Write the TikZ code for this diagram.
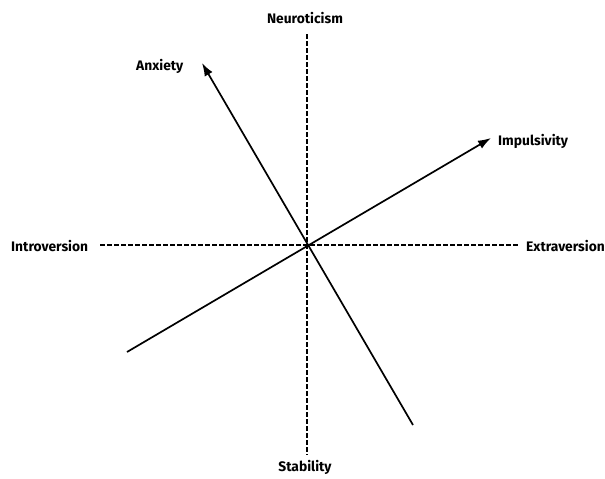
\documentclass[tikz,border=0pt]{standalone}
\usepackage{fontspec}
\setsansfont{Fira Sans}
\usetikzlibrary{arrows.meta}
\tikzset{font={\fontsize{13.8pt}{15}\selectfont\sffamily\bfseries}}
\tikzset{axis/.style={line width=1.7pt, dash pattern=on 4.5pt off 2.5pt},
  trait/.style={line width=1.7pt, -{Latex[length=13pt,width=9pt]}}}

\begin{document}
\begin{tikzpicture}[x=1pt,y=-1pt,inner sep=0pt]
      \useasboundingbox (0,0) rectangle (605,479);
      %dashed axes
      \coordinate (top) at (307,34);
      \coordinate (bottom) at (307,455);
      \coordinate (left) at (100,245);
      \coordinate (right) at (518,245);
      \draw[axis] (top) -- (bottom);
      \draw[axis] (left) -- (right);
      %axis labels
      \node (neuro) at (305,18) {Neuroticism};
      \node (stab) at (305,467) {Stability};
      \node[anchor=west] (intro) at (11,246) {Introversion};
      \node[anchor=west] (extra) at (526,246) {Extraversion};
      %trait arrows
      \coordinate (anxlow) at (413,425);
      \coordinate (anxtip) at (202,63);
      \coordinate (implow) at (127,352);
      \coordinate (imptip) at (491,138);
      \draw[trait] (anxlow) -- (anxtip);
      \draw[trait] (implow) -- (imptip);
      %trait labels
      \node[anchor=west] (anx) at (136,66) {Anxiety};
      \node[anchor=west] (imp) at (498,141) {Impulsivity};
\end{tikzpicture}
\end{document}
